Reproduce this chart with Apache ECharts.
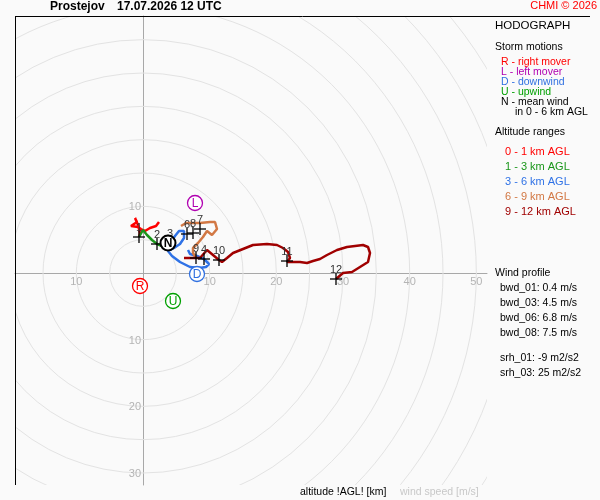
<!DOCTYPE html>
<html>
<head>
<meta charset="utf-8">
<title>Hodograph Prostejov</title>
<script src="https://cdn.jsdelivr.net/npm/echarts@6/dist/echarts.min.js"></script>
<style>
html,body{margin:0;padding:0;background:#fafafa;}
#chart{width:600px;height:500px;}
</style>
</head>
<body>
<div id="chart"></div>
<script>
// wind components [u, v] in m/s
var seg01=[[2.4,7.65],[1.95,7.05],[1.05,6.75],[0.3,6.3],[-0.3,6.6],[-0.75,6.9],[-1.8,7.05],[-0.9,7.65],[-1.2,8.25],[-0.75,7.2],[-0.45,6.0],[-0.6,5.4]];
var seg13=[[-0.6,5.4],[0,6.45],[0.6,5.7],[1.35,4.95],[2.1,4.35],[2.85,4.05],[4.05,4.5]];
var seg36=[[4.05,4.5],[4.8,5.55],[5.4,6.3],[6.15,6.3],[6.15,5.25],[5.55,4.35],[4.65,3.75],[3.75,3.3],[4.35,2.55],[5.55,1.65],[7.05,0.9],[8.4,0.75],[9.45,0.9],[9.9,1.35],[9.15,2.1],[8.1,2.55],[7.05,2.85],[6.75,3.45]];
var seg69=[[5.7,7.05],[6.45,7.5],[8.55,7.5],[10.05,7.65],[10.8,7.65],[11.1,6.6],[10.35,5.7],[9.6,6.3],[9.0,5.4],[8.25,4.5],[7.5,3.75],[7.5,3.0],[7.95,2.25]];
var seg912=[[7.95,2.25],[6.15,2.25],[8.55,2.25],[9.6,3.45],[10.5,2.7],[11.4,1.95],[11.85,1.65],[12.6,2.25],[13.5,3.0],[15.0,3.6],[16.5,4.2],[18.6,4.35],[20.1,4.2],[21.0,3.75],[21.75,3.15],[22.05,2.25],[21.6,1.65],[23.55,1.65],[24.6,1.5],[25.5,1.8],[26.55,2.1],[27.6,2.7],[29.1,3.45],[30.6,3.9],[33.0,4.2],[33.75,3.9],[34.05,3.0],[33.75,1.65],[32.55,0.9],[31.35,0.15],[30.0,0],[28.95,-0.9]];

var kmLabels=['1','2','3','4','6','7','8','9','10','11','12'];
var kmPoints=[[-0.6,5.4],[2.1,4.35],[4.05,4.5],[9.15,2.1],[6.6,5.85],[8.55,6.6],[7.5,6.0],[7.95,2.25],[11.4,1.95],[21.6,1.8],[28.95,-0.9]];

var stormLetters=['R','L','D','U','N'];
var stormPoints=[[-0.45,-1.95],[7.8,10.5],[8.1,-0.15],[4.5,-4.2],[3.75,4.5]];

var ringSpeeds=[5,10,15,20,25,30,35,40,45,50,55,60,65];
var xTicks=[-10,10,20,30,40,50];
var yTicks=[10,-10,-20,-30];

var stormLegend=['R - right mover','L - left mover','D - downwind','U - upwind','N - mean wind'];
var altLegend=['0 - 1 km AGL','1 - 3 km AGL','3 - 6 km AGL','6 - 9 km AGL','9 - 12 km AGL'];
var profileNames=['bwd_01','bwd_03','bwd_06','bwd_08','srh_01','srh_03'];
var profileValues=['0.4 m/s','4.5 m/s','6.8 m/s','7.5 m/s','-9 m2/s2','25 m2/s2'];

var FONT='"Liberation Sans", Arial, sans-serif';
var stormColors=['#ff0000','#b000b0','#3070e0','#00a000','#000000'];
var segColors=['#ff0000','#1a961a','#2f72e6','#d27844','#a00000'];

var chart=echarts.init(document.getElementById('chart'));

function txt(x,y,s,size,color,extra){
    var o={type:'text',x:x,y:y,silent:true,style:{text:s,fill:color,font:(extra||'')+size+'px '+FONT,verticalAlign:'middle'}};
    return o;
}

var graphic=[];
graphic.push(txt(50,7,'Prostejov',12,'#000','bold '));
graphic.push(txt(117,7,'17.07.2026 12 UTC',12,'#000','bold '));
var chmi=txt(597,6,'CHMI \u00a9 2026',11,'#ff0000');
chmi.style.align='right';
graphic.push(chmi);
graphic.push({type:'line',silent:true,z:10,shape:{x1:15,y1:16.5,x2:590,y2:16.5},style:{stroke:'#000',lineWidth:1}});
graphic.push({type:'line',silent:true,z:10,shape:{x1:15.5,y1:16,x2:15.5,y2:485},style:{stroke:'#000',lineWidth:1}});
graphic.push(txt(495,26,'HODOGRAPH',11.5,'#000'));
graphic.push(txt(495,47,'Storm motions',10.5,'#000'));
for(var i=0;i<stormLegend.length;i++){
    graphic.push(txt(501,62+i*10,stormLegend[i],10.5,stormColors[i]));
}
graphic.push(txt(515,112,'in 0 - 6 km AGL',10.5,'#000'));
graphic.push(txt(495,132,'Altitude ranges',10.5,'#000'));
for(var i=0;i<altLegend.length;i++){
    graphic.push(txt(505,152+i*15,altLegend[i],11,segColors[i]));
}
graphic.push(txt(495,273,'Wind profile',10.5,'#000'));
for(var i=0;i<profileNames.length;i++){
    var yy=i<4?288+i*15:358+(i-4)*15;
    graphic.push(txt(500,yy,profileNames[i]+': '+profileValues[i],10.5,'#000'));
}
graphic.push(txt(300,492,'altitude !AGL! [km]',10.5,'#000'));
graphic.push(txt(400,492,'wind speed [m/s]',10.5,'#c8c8c8'));

var series=[];
// speed rings
series.push({
    type:'custom',silent:true,clip:true,z:1,
    data:ringSpeeds.map(function(r){return [r,0];}),
    renderItem:function(params,api){
        var c=api.coord([0,0]);
        var r=api.size([api.value(0),0])[0];
        return {type:'circle',shape:{cx:c[0],cy:c[1],r:r},style:{fill:'none',stroke:'#e3e3e3',lineWidth:1}};
    }
});
// tick labels
series.push({
    type:'custom',silent:true,z:2,
    data:xTicks.map(function(t){return [t,0];}),
    renderItem:function(params,api){
        var p=api.coord([api.value(0),0]);
        return {type:'text',x:p[0],y:p[1]+9,style:{text:String(Math.abs(api.value(0))),fill:'#b4b4b4',font:'11px '+FONT,align:'center',verticalAlign:'middle'}};
    }
});
series.push({
    type:'custom',silent:true,z:2,
    data:yTicks.map(function(t){return [0,t];}),
    renderItem:function(params,api){
        var p=api.coord([0,api.value(1)]);
        return {type:'text',x:p[0]-2,y:p[1]+1,style:{text:String(Math.abs(api.value(1))),fill:'#b4b4b4',font:'11px '+FONT,align:'right',verticalAlign:'middle'}};
    }
});
[seg01,seg13,seg36,seg69,seg912].forEach(function(seg,k){
    series.push({type:'line',data:seg,symbol:'none',silent:true,z:3,
        lineStyle:{color:segColors[k],width:2.5},itemStyle:{color:segColors[k]}});
});
// height crosses
series.push({
    type:'custom',silent:true,z:4,
    data:kmPoints,
    renderItem:function(params,api){
        var p=api.coord([api.value(0),api.value(1)]);
        return {type:'group',children:[
            {type:'line',shape:{x1:p[0]-6,y1:p[1],x2:p[0]+6,y2:p[1]},style:{stroke:'#000',lineWidth:1.3}},
            {type:'line',shape:{x1:p[0],y1:p[1]-6,x2:p[0],y2:p[1]+6},style:{stroke:'#000',lineWidth:1.3}},
            {type:'text',x:p[0],y:p[1]-9,style:{text:kmLabels[params.dataIndex],fill:'#333',font:'11px '+FONT,align:'center',verticalAlign:'middle'}}
        ]};
    }
});
// storm motion markers
series.push({
    type:'custom',silent:true,z:5,
    data:stormPoints,
    renderItem:function(params,api){
        var p=api.coord([api.value(0),api.value(1)]);
        var i=params.dataIndex;
        var isN=stormLetters[i]==='N';
        return {type:'group',children:[
            {type:'circle',shape:{cx:p[0],cy:p[1],r:7.5},style:{fill:'#fff',stroke:stormColors[i],lineWidth:isN?2:1.3}},
            {type:'text',x:p[0],y:p[1]+0.5,style:{text:stormLetters[i],fill:stormColors[i],font:(isN?'bold ':'')+'12px '+FONT,align:'center',verticalAlign:'middle'}}
        ]};
    }
});

chart.setOption({
    backgroundColor:'#fafafa',
    animation:false,
    grid:{left:15,top:16,width:472,height:469},
    xAxis:{type:'value',min:-19.2,max:51.6,axisLine:{onZero:true,lineStyle:{color:'#a8a8a8',width:1}},
        axisTick:{show:false},axisLabel:{show:false},splitLine:{show:false}},
    yAxis:{type:'value',min:-31.8,max:38.55,axisLine:{onZero:true,lineStyle:{color:'#a8a8a8',width:1}},
        axisTick:{show:false},axisLabel:{show:false},splitLine:{show:false}},
    graphic:graphic,
    series:series
});
</script>
</body>
</html>
